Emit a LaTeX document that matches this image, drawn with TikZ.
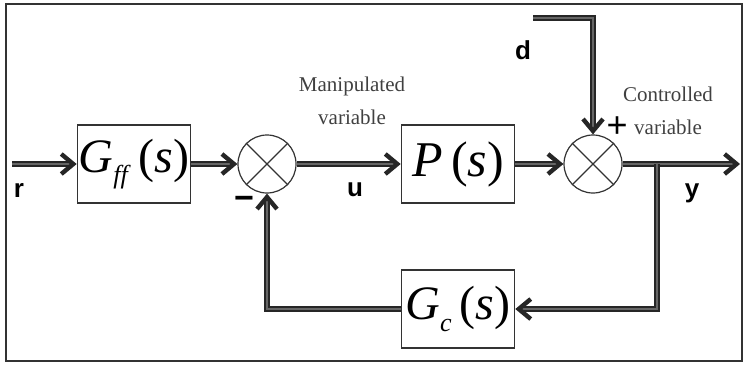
\documentclass[tikz,border=0pt]{standalone}
\usepackage{fontspec}
\setmainfont{Liberation Serif}
\setsansfont{Liberation Sans}
\usetikzlibrary{arrows.meta}

\tikzset{
  block/.style={draw=black!80, line width=0.8pt, minimum width=56.5pt, minimum height=39pt, inner sep=0pt, font=\fontsize{24}{28}\selectfont},
  sumnode/.style={draw=black!80, line width=0.6pt, circle, minimum size=29pt, inner sep=0pt},
  sig/.style={draw=black!85, double=black!60, double distance=0.9pt, line width=0.85pt},
  tip/.style={-{Straight Barb[length=6pt,width=10pt,line width=2.2pt,color=black!85]}},
  varlabel/.style={font=\fontsize{10.5}{16.5}\selectfont, text=black!75, align=center},
  siglabel/.style={font=\sffamily\bfseries\fontsize{13}{15}\selectfont},
}

\begin{document}
\begin{tikzpicture}[x=0.5pt, y=-0.5pt]
  \useasboundingbox (0,0) rectangle (747,365);
  \draw[black!80, line width=1.4pt] (6,4) rectangle (742,361);

  % blocks and summing points
  \node[block] (gff) at (134,164) {\textit{G}\raisebox{-0.5ex}{\fontsize{13}{13}\selectfont\textit{ff}}\,(\textit{s})};
  \node[sumnode] (sum1) at (267,164) {};
  \node[block, font=\fontsize{25}{28}\selectfont] (plant) at (458,164) {\textit{P}\,(\textit{s})};
  \node[sumnode] (sum2) at (593,164) {};
  \node[block] (gc) at (458,309) {\textit{G}\raisebox{-0.55ex}{\fontsize{13}{13}\selectfont\textit{c}}\,(\textit{s})};

  \foreach \s in {sum1,sum2}{
    \draw[black!80, line width=0.6pt] (\s.45) -- (\s.225);
    \draw[black!80, line width=0.6pt] (\s.135) -- (\s.315);
  }

  \coordinate (rin) at (12,164);
  \coordinate (yout) at (740,164);
  \coordinate (tap) at (657,164);
  \coordinate (din) at (533,18);

  % signals
  \draw[sig, tip] (rin) -- (gff);
  \draw[sig, tip] (gff) -- (sum1);
  \draw[sig, tip] (sum1) -- (plant);
  \draw[sig, tip] (plant) -- (sum2);
  \draw[sig, tip] (sum2) -- (yout);
  \draw[sig, tip] (din) -| (sum2);
  \draw[sig, tip] (tap) |- (gc);
  \draw[sig, tip] (gc) -| (sum1);

  % labels
  \node[siglabel] (rlab) at (19,190) {r};
  \node[siglabel] (ulab) at (355,190) {u};
  \node[siglabel] (dlab) at (523,50) {d};
  \node[siglabel] (ylab) at (692,193) {y};
  \node[font=\sffamily\fontsize{18}{18}\selectfont] (plus) at (617,127) {+};
  \node[font=\sffamily\bfseries\fontsize{17}{17}\selectfont] (minus) at (244,203) {−};
  \node[varlabel] (manip) at (352,101) {Manipulated\\variable};
  \node[varlabel] (contr) at (668,111) {Controlled\\variable};
\end{tikzpicture}
\end{document}
